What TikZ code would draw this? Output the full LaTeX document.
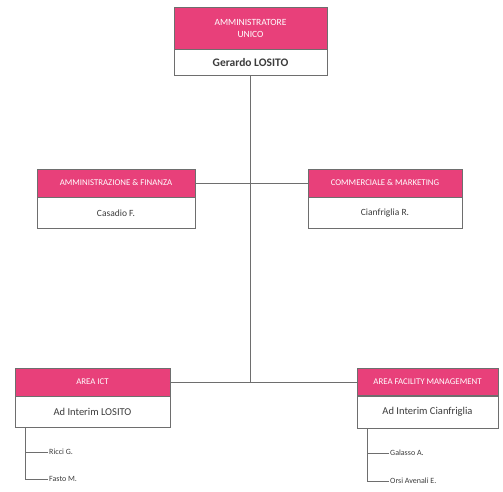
\documentclass[tikz,border=0pt]{standalone}
\usepackage{fontspec}
\setmainfont{Carlito}
\definecolor{hdr}{RGB}{232,64,122}
\definecolor{edge}{RGB}{110,110,110}
\definecolor{txt}{RGB}{60,60,60}
\tikzset{
  hbox/.style={fill=hdr, draw=edge, line width=0.5pt, inner sep=0pt, text=white, align=center, font=\fontsize{8.8}{10}\selectfont},
  bbox/.style={fill=white, draw=edge, line width=0.5pt, inner sep=0pt, text=txt, align=center, font=\fontsize{9.5}{11}\selectfont},
  conn/.style={draw=edge, line width=0.5pt},
  leaf/.style={anchor=west, inner sep=1pt, text=txt, font=\fontsize{8}{9}\selectfont}
}
\begin{document}
\begin{tikzpicture}[x=1pt,y=-1pt]
\useasboundingbox (0,0) rectangle (503,491);
% top
\node[hbox, minimum width=153pt, minimum height=42pt, font=\fontsize{9.5}{12}\selectfont] (toph) at (250.5,28) {AMMINISTRATORE\\UNICO};
\node[bbox, minimum width=153pt, minimum height=26pt, anchor=north, font=\bfseries\fontsize{11.5}{13}\selectfont] (topb) at (toph.south) {Gerardo LOSITO};
% second level
\node[hbox, minimum width=158pt, minimum height=28pt] (afh) at (116,183) {AMMINISTRAZIONE \& FINANZA};
\node[bbox, minimum width=158pt, minimum height=31pt, anchor=north] (afb) at (afh.south) {Casadio F.};
\node[hbox, minimum width=154pt, minimum height=28pt] (cmh) at (385,183) {COMMERCIALE \& MARKETING};
\node[bbox, minimum width=154pt, minimum height=31pt, anchor=north] (cmb) at (cmh.south) {Cianfriglia R.};
% third level
\node[hbox, minimum width=155pt, minimum height=28pt] (icth) at (92.5,382) {AREA ICT};
\node[bbox, minimum width=155pt, minimum height=31pt, anchor=north, font=\fontsize{10.5}{12}\selectfont] (ictb) at (icth.south) {Ad Interim LOSITO};
\node[hbox, minimum width=141pt, minimum height=27pt] (afmh) at (427.5,382) {AREA FACILITY MANAGEMENT};
\node[bbox, minimum width=141pt, minimum height=32pt, anchor=north, font=\fontsize{10.5}{12}\selectfont] (afmb) at (afmh.south) {Ad Interim Cianfriglia};
% connectors
\draw[conn] (topb.south) -- (topb.south |- icth.east);
\draw[conn] (icth.east) -- (afmh.west);
\draw[conn] (afh.east) -- (afh.east -| topb.south);
\draw[conn] (cmh.west) -- (cmh.west -| topb.south);
% leaves ICT
\node[leaf] (ricci) at (48,452) {Ricci G.};
\node[leaf] (fasto) at (48,479) {Fasto M.};
\coordinate (ictstem) at (25,428);
\draw[conn] (ictstem) |- (fasto.west);
\draw[conn] (ricci.west) -- (ricci.west -| ictstem);
% leaves AFM
\node[leaf] (galasso) at (389,453) {Galasso A.};
\node[leaf] (orsi) at (389,481) {Orsi Avenali E.};
\coordinate (afmstem) at (367,428);
\draw[conn] (afmstem) |- (orsi.west);
\draw[conn] (galasso.west) -- (galasso.west -| afmstem);
\end{tikzpicture}
\end{document}
